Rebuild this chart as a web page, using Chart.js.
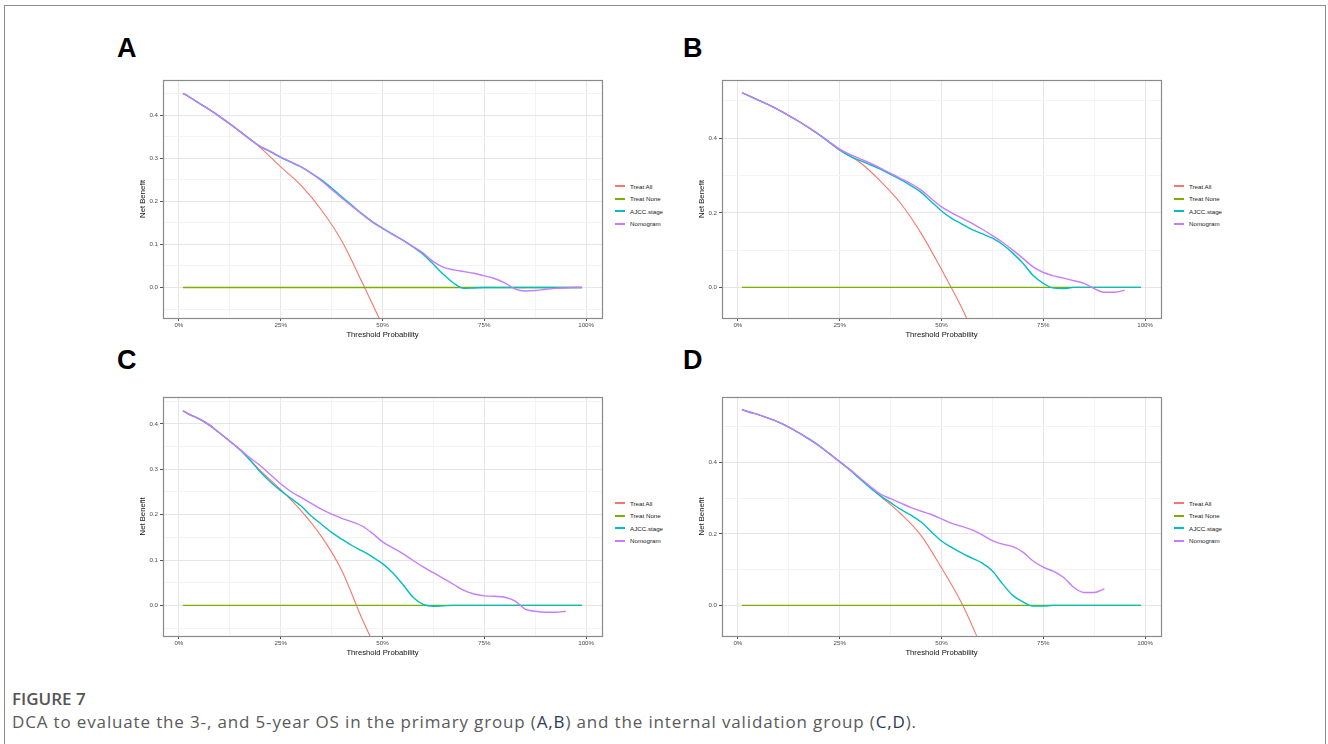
<!DOCTYPE html>
<html>
<head>
    <title>DCA - Figure 7</title>
    <meta charset="utf-8" />
    <script src="https://cdn.jsdelivr.net/npm/chart.js"></script>
    <style>
        body {
            margin: 0;
            padding: 0;
            width: 1328px;
            height: 744px;
            overflow: hidden;
            background: #fff;
            position: relative;
            font-family: "Liberation Sans", Arial, sans-serif;
        }

        #frame {
            position: absolute;
            left: 4px;
            top: 5px;
            width: 1320px;
            height: 800px;
            border: 1px solid #8c8c8c;
        }

        canvas {
            position: absolute;
        }

        .tag {
            position: absolute;
            font: bold 27px/27px "Liberation Sans", Arial, sans-serif;
            color: #000;
        }

        .legend {
            position: absolute;
            font-size: 6.2px;
            color: #222;
        }

        .legend .row {
            display: flex;
            align-items: center;
            height: 12.5px;
            white-space: nowrap;
        }

        .legend .key {
            width: 10px;
            height: 2px;
            margin-right: 5px;
        }

        #figlabel {
            position: absolute;
            left: 12px;
            top: 690px;
            font: 600 17px/17px "Open Sans", sans-serif;
            color: #555;
        }

        #caption {
            position: absolute;
            left: 12px;
            top: 713px;
            font: 400 17px/17px "Open Sans", sans-serif;
            letter-spacing: 0.85px;
            color: #5a5a5a;
            white-space: nowrap;
        }

        #caption b {
            font-weight: 400;
            color: #2b3a55;
        }
    </style>
</head>
<body>
    <div id="frame"></div>

    <div class="tag" style="left:117px;top:35px">A</div>
    <div class="tag" style="left:683px;top:35px">B</div>
    <div class="tag" style="left:117px;top:347px">C</div>
    <div class="tag" style="left:683px;top:347px">D</div>

    <canvas id="chartA" width="472" height="267" style="left:134px;top:74px"></canvas>
    <canvas id="chartB" width="472" height="267" style="left:693px;top:74px"></canvas>
    <canvas id="chartC" width="472" height="268" style="left:134px;top:391px"></canvas>
    <canvas id="chartD" width="472" height="268" style="left:693px;top:391px"></canvas>

    <div class="legend" id="legendA" style="left:615px;top:180px"></div>
    <div class="legend" id="legendB" style="left:1174px;top:180px"></div>
    <div class="legend" id="legendC" style="left:615px;top:497px"></div>
    <div class="legend" id="legendD" style="left:1174px;top:497px"></div>

    <div id="figlabel">FIGURE 7</div>
    <div id="caption">DCA to evaluate the 3-, and 5-year OS in the primary group (<b>A,B</b>) and the internal validation group (<b>C,D</b>).</div>

    <script>
        // threshold probabilities (%) where the model curves are sampled
        const thresholds = [1, 2.5, 5, 7.5, 10, 12.5, 15, 17.5, 20, 22.5,
            25, 27.5, 30, 32.5, 35, 37.5, 40, 42.5, 45, 47.5,
            50, 52.5, 55, 57.5, 60, 62.5, 65, 67.5, 70, 72.5,
            75, 77.5, 80, 82.5, 85, 87.5, 90, 92.5, 95, 97.5, 99];

        const seriesNames = ["Treat All", "Treat None", "AJCC.stage", "Nomogram"];
        const seriesColors = ["#F8766D", "#7CAE00", "#00BFC4", "#C77CFF"];

        // Treat None is flat at zero
        const noneX = [1, 99];
        const noneY = [0, 0];

        // A: primary group, 3-year OS
        const allXA = [1, 5, 10, 15, 20, 25, 30, 35, 40, 45, 50];
        const allYA = [0.451, 0.428, 0.398, 0.363, 0.325, 0.280, 0.237, 0.180, 0.108, 0.012, -0.088];
        const ajccA = [0.451, 0.443, 0.428, 0.413, 0.397, 0.380, 0.362, 0.344, 0.327, 0.315,
            0.302, 0.291, 0.280, 0.266, 0.250, 0.231, 0.211, 0.191, 0.171, 0.153,
            0.138, 0.124, 0.110, 0.094, 0.077, 0.054, 0.030, 0.010, -0.002, -0.001,
            0, 0, 0, 0, 0, 0, 0, 0, 0, 0, 0];
        const nomoA = [0.451, 0.443, 0.428, 0.413, 0.397, 0.380, 0.362, 0.344, 0.328, 0.316,
            0.303, 0.292, 0.280, 0.265, 0.248, 0.228, 0.208, 0.189, 0.170, 0.152,
            0.137, 0.123, 0.110, 0.095, 0.080, 0.060, 0.047, 0.041, 0.037, 0.033,
            0.027, 0.021, 0.011, -0.003, -0.008, -0.007, -0.004, -0.002, -0.001, 0, 0];

        // B: primary group, 5-year OS
        const allXB = [1, 5, 10, 15, 20, 25, 30, 35, 40, 45, 50, 55, 57.5];
        const allYB = [0.522, 0.502, 0.476, 0.445, 0.409, 0.368, 0.335, 0.285, 0.225, 0.145, 0.048, -0.055, -0.115];
        const ajccB = [0.522, 0.515, 0.502, 0.490, 0.476, 0.461, 0.445, 0.428, 0.409, 0.389,
            0.369, 0.352, 0.340, 0.329, 0.317, 0.303, 0.289, 0.273, 0.255, 0.230,
            0.205, 0.185, 0.170, 0.155, 0.144, 0.132, 0.115, 0.092, 0.065, 0.032,
            0.011, -0.002, -0.003, 0, 0, 0, 0, 0, 0, 0, 0];
        const nomoB = [0.522, 0.515, 0.502, 0.490, 0.476, 0.461, 0.445, 0.428, 0.410, 0.390,
            0.371, 0.357, 0.345, 0.333, 0.320, 0.306, 0.292, 0.278, 0.261, 0.238,
            0.216, 0.200, 0.186, 0.172, 0.156, 0.139, 0.121, 0.100, 0.078, 0.055,
            0.040, 0.031, 0.025, 0.018, 0.011, -0.003, -0.013, -0.013, -0.008, null, null];

        // C: internal validation, 3-year OS
        const allXC = [1, 5, 10, 15, 20, 25, 30, 35, 40, 45, 50];
        const allYC = [0.429, 0.411, 0.380, 0.343, 0.297, 0.255, 0.209, 0.152, 0.077, -0.030, -0.125];
        const ajccC = [0.429, 0.421, 0.411, 0.398, 0.380, 0.362, 0.343, 0.320, 0.294, 0.272,
            0.253, 0.236, 0.219, 0.197, 0.179, 0.161, 0.146, 0.132, 0.120, 0.107,
            0.092, 0.072, 0.046, 0.018, 0.002, -0.002, -0.001, 0, 0, 0,
            0, 0, 0, 0, 0, 0, 0, 0, 0, 0, 0];
        const nomoC = [0.429, 0.421, 0.411, 0.398, 0.380, 0.362, 0.344, 0.325, 0.308, 0.288,
            0.268, 0.251, 0.238, 0.225, 0.212, 0.201, 0.192, 0.184, 0.175, 0.159,
            0.140, 0.127, 0.114, 0.099, 0.085, 0.072, 0.059, 0.046, 0.033, 0.025,
            0.021, 0.020, 0.018, 0.010, -0.008, -0.013, -0.015, -0.015, -0.013, null, null];

        // D: internal validation, 5-year OS
        const allXD = [1, 5, 10, 15, 20, 25, 30, 35, 40, 45, 50, 55, 60];
        const allYD = [0.547, 0.533, 0.512, 0.482, 0.445, 0.401, 0.354, 0.305, 0.256, 0.195, 0.105, 0.005, -0.120];
        const ajccD = [0.547, 0.541, 0.533, 0.523, 0.512, 0.498, 0.482, 0.465, 0.446, 0.424,
            0.402, 0.379, 0.353, 0.328, 0.306, 0.287, 0.268, 0.252, 0.233, 0.206,
            0.180, 0.162, 0.146, 0.132, 0.118, 0.096, 0.060, 0.028, 0.010, -0.002,
            -0.002, 0, 0, 0, 0, 0, 0, 0, 0, 0, 0];
        const nomoD = [0.547, 0.541, 0.533, 0.523, 0.512, 0.498, 0.482, 0.464, 0.445, 0.423,
            0.401, 0.380, 0.356, 0.332, 0.311, 0.298, 0.286, 0.273, 0.263, 0.254,
            0.242, 0.229, 0.221, 0.211, 0.197, 0.181, 0.171, 0.164, 0.149, 0.124,
            0.107, 0.095, 0.078, 0.050, 0.036, 0.036, 0.046, null, null, null, null];

        // axis ticks: major ones get labels, minor ones only a grid line
        const xTicks = [0, 12.5, 25, 37.5, 50, 62.5, 75, 87.5, 100];
        const xMajor = [0, 25, 50, 75, 100];
        const xLabels = ["0%", "25%", "50%", "75%", "100%"];
        const yTicksFine = [-0.05, 0, 0.05, 0.1, 0.15, 0.2, 0.25, 0.3, 0.35, 0.4, 0.45];
        const yMajorFine = [0, 0.1, 0.2, 0.3, 0.4];
        const yLabelsFine = ["0.0", "0.1", "0.2", "0.3", "0.4"];
        const yTicksCoarse = [0, 0.1, 0.2, 0.3, 0.4, 0.5];
        const yMajorCoarse = [0, 0.2, 0.4];
        const yLabelsCoarse = ["0.0", "0.2", "0.4"];

        Chart.defaults.font.family = '"Liberation Sans", Arial, sans-serif';

        function pts(xs, ys) {
            const out = [];
            xs.forEach((x, i) => {
                if (ys[i] !== null) out.push({ x: x, y: ys[i] });
            });
            return out;
        }

        const isIn = (list, v) => list.some(m => Math.abs(m - v) < 1e-9);

        // ggplot-style panel border drawn over the lines
        const panelBorder = {
            id: "panelBorder",
            afterDatasetsDraw(chart) {
                const { ctx, chartArea: a } = chart;
                ctx.save();
                ctx.strokeStyle = "#8a8a8a";
                ctx.lineWidth = 1.2;
                ctx.strokeRect(Math.round(a.left) + 0.5, Math.round(a.top) + 0.5,
                    Math.round(a.right - a.left), Math.round(a.bottom - a.top));
                ctx.restore();
            }
        };

        function drawPanel(p) {
            const lines = [
                pts(p.allX, p.allY),
                pts(noneX, noneY),
                pts(thresholds, p.ajcc),
                pts(thresholds, p.nomo)
            ];
            new Chart(document.getElementById(p.id), {
                type: "line",
                data: {
                    datasets: lines.map((d, i) => ({
                        label: seriesNames[i],
                        data: d,
                        borderColor: seriesColors[i],
                        borderWidth: i === 0 ? 1.1 : 1.4,
                        pointRadius: 0,
                        fill: false,
                        cubicInterpolationMode: "monotone",
                        clip: 0,
                        order: 4 - i
                    }))
                },
                options: {
                    responsive: false,
                    animation: false,
                    layout: { padding: { top: 5, right: 4, left: 0, bottom: 0 } },
                    plugins: { legend: { display: false }, tooltip: { enabled: false } },
                    scales: {
                        x: {
                            type: "linear",
                            min: -3.9,
                            max: 103.9,
                            afterBuildTicks: s => { s.ticks = xTicks.map(v => ({ value: v })); },
                            afterFit: s => { s.height = 23; },
                            border: { display: false },
                            grid: {
                                color: c => isIn(xMajor, c.tick.value) ? "#e6e6e6" : "#f3f3f3",
                                tickColor: c => isIn(xMajor, c.tick.value) ? "#555" : "rgba(0,0,0,0)",
                                tickLength: 3,
                                lineWidth: 1
                            },
                            ticks: {
                                autoSkip: false,
                                maxRotation: 0,
                                padding: 1,
                                color: "#4d4d4d",
                                font: { size: 6.2 },
                                callback: v => isIn(xMajor, v) ? xLabels[xMajor.findIndex(m => Math.abs(m - v) < 1e-9)] : ""
                            },
                            title: {
                                display: true,
                                text: "Threshold Probability",
                                color: "#111",
                                font: { size: 7.7 },
                                padding: { top: 0, bottom: 1.4 }
                            }
                        },
                        y: {
                            min: p.yMin,
                            max: p.yMax,
                            afterBuildTicks: s => { s.ticks = p.yTicks.map(v => ({ value: v })); },
                            afterFit: s => { s.width = 29; },
                            border: { display: false },
                            grid: {
                                color: c => isIn(p.yMajor, c.tick.value) ? "#e6e6e6" : "#f3f3f3",
                                tickColor: c => isIn(p.yMajor, c.tick.value) ? "#555" : "rgba(0,0,0,0)",
                                tickLength: 3,
                                lineWidth: 1
                            },
                            ticks: {
                                autoSkip: false,
                                padding: 2,
                                color: "#4d4d4d",
                                font: { size: 6.2 },
                                callback: v => isIn(p.yMajor, v) ? p.yLabels[p.yMajor.findIndex(m => Math.abs(m - v) < 1e-9)] : ""
                            },
                            title: {
                                display: true,
                                text: "Net Benefit",
                                color: "#111",
                                font: { size: 7.7 },
                                padding: { top: 4.5, bottom: 0 }
                            }
                        }
                    }
                },
                plugins: [panelBorder]
            });

            const legend = document.getElementById(p.legend);
            seriesNames.forEach((name, i) => {
                const row = document.createElement("div");
                row.className = "row";
                row.innerHTML = `<span class="key" style="background:${seriesColors[i]}"></span>${name}`;
                legend.appendChild(row);
            });
        }

        const panels = [
            { id: "chartA", legend: "legendA", allX: allXA, allY: allYA, ajcc: ajccA, nomo: nomoA,
              yMin: -0.0708, yMax: 0.4826, yTicks: yTicksFine, yMajor: yMajorFine, yLabels: yLabelsFine },
            { id: "chartB", legend: "legendB", allX: allXB, allY: allYB, ajcc: ajccB, nomo: nomoB,
              yMin: -0.082, yMax: 0.557, yTicks: yTicksCoarse, yMajor: yMajorCoarse, yLabels: yLabelsCoarse },
            { id: "chartC", legend: "legendC", allX: allXC, allY: allYC, ajcc: ajccC, nomo: nomoC,
              yMin: -0.0675, yMax: 0.46, yTicks: yTicksFine, yMajor: yMajorFine, yLabels: yLabelsFine },
            { id: "chartD", legend: "legendD", allX: allXD, allY: allYD, ajcc: ajccD, nomo: nomoD,
              yMin: -0.0855, yMax: 0.583, yTicks: yTicksCoarse, yMajor: yMajorCoarse, yLabels: yLabelsCoarse }
        ];

        panels.forEach(drawPanel);
    </script>
</body>
</html>
